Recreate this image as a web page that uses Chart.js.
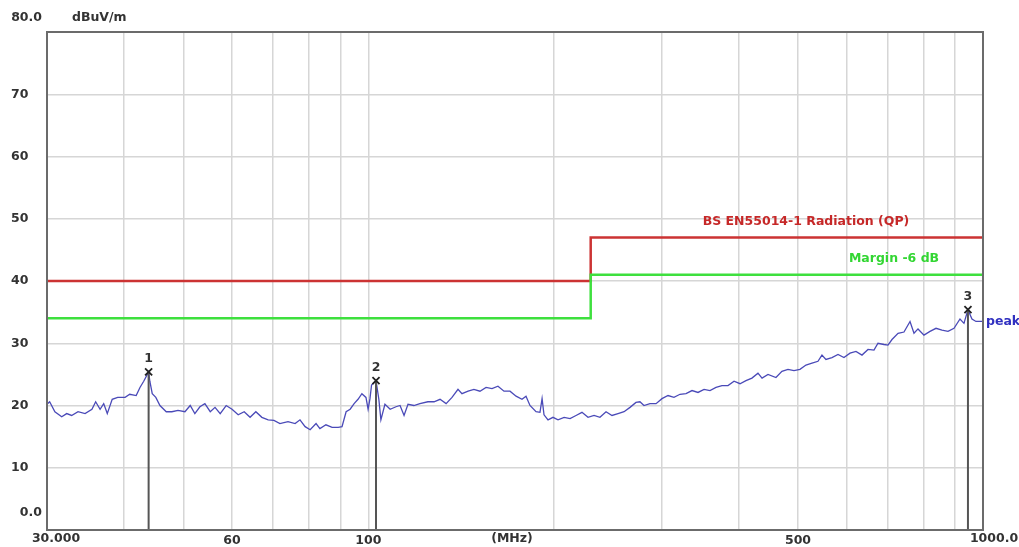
<!DOCTYPE html>
<html>
<head>
<meta charset="utf-8">
<script src="https://cdn.jsdelivr.net/npm/chart.js@4/dist/chart.umd.min.js"></script>
<style>
  html, body { margin: 0; padding: 0; background: #fff; }
  canvas { display: block; }
</style>
</head>
<body>
<canvas id="emi" width="1019" height="547"></canvas>
<script>
// peak trace, MHz / dBuV/m
const freqs = [30.0,30.3,30.9,31.7,32.3,32.9,33.7,34.6,35.5,36.0,
  36.6,37.1,37.6,38.3,39.1,40.2,40.9,41.9,42.5,43.1,
  43.9,44.1,44.5,45.1,45.8,46.9,47.9,49.0,50.3,51.3,
  52.2,53.2,54.2,55.3,56.3,57.4,58.7,60.0,61.4,62.8,
  64.2,65.6,67.1,68.7,70.2,71.8,74.0,76.0,77.4,78.9,
  80.4,82.2,83.4,85.3,87.3,89.3,90.6,92.0,93.4,94.8,
  96.2,97.6,99.1,99.9,100.6,101.2,102.9,104.0,104.8,106.4,
  108.5,110.9,112.6,114.3,116.0,118.6,121.3,125.0,127.9,130.8,
  133.8,136.8,139.9,142.0,145.3,148.5,151.9,155.4,158.9,162.5,
  166.2,170.0,173.9,177.8,180.5,183.2,187.4,190.2,191.7,193.1,
  196.0,199.7,203.5,208.2,212.9,217.7,222.6,227.7,232.9,238.1,
  243.6,249.1,254.8,260.6,266.5,272.5,276.6,280.8,287.2,293.8,
  300.4,307.3,314.2,321.4,328.7,336.2,343.8,351.7,359.6,367.8,
  376.1,384.7,393.5,402.4,411.5,420.8,430.4,437.0,446.9,460.4,
  470.8,481.6,492.6,503.7,515.2,527.0,538.9,547.0,555.2,567.9,
  580.9,594.0,607.6,621.3,635.5,650.0,664.7,674.7,690.1,700.5,
  711.1,727.4,743.8,760.8,772.2,783.9,801.6,819.9,838.6,857.6,
  877.1,897.1,917.4,931.2,945.2,959.5,974.0,1000];
const peak = [20.2,20.6,19.0,18.2,18.7,18.4,19.0,18.7,19.4,20.6,
  19.4,20.3,18.7,21.0,21.3,21.3,21.8,21.6,22.9,23.9,
  25.4,23.9,21.9,21.3,20.0,19.0,19.0,19.2,19.0,20.0,
  18.7,19.8,20.3,19.0,19.7,18.7,20.0,19.4,18.5,19.0,
  18.1,19.0,18.1,17.7,17.6,17.1,17.4,17.1,17.7,16.6,
  16.1,17.1,16.3,16.9,16.5,16.5,16.6,19.0,19.4,20.3,
  21.0,21.9,21.3,19.4,21.1,23.3,24.0,21.0,17.7,20.2,
  19.4,19.8,20.0,18.4,20.2,20.0,20.3,20.6,20.6,21.0,
  20.3,21.3,22.6,21.9,22.3,22.6,22.3,22.9,22.7,23.1,
  22.3,22.3,21.5,21.0,21.5,20.0,19.0,18.9,21.1,18.5,
  17.7,18.1,17.7,18.1,17.9,18.4,18.9,18.1,18.4,18.1,
  19.0,18.4,18.7,19.0,19.7,20.5,20.6,20.0,20.3,20.3,
  21.1,21.6,21.3,21.8,21.9,22.4,22.1,22.6,22.4,22.9,
  23.2,23.2,23.9,23.5,24.0,24.4,25.2,24.4,25.0,24.5,
  25.5,25.8,25.6,25.8,26.5,26.8,27.1,28.1,27.4,27.7,
  28.2,27.7,28.4,28.7,28.1,29.0,28.9,30.0,29.8,29.7,
  30.6,31.6,31.8,33.5,31.6,32.3,31.3,31.9,32.4,32.1,
  31.9,32.4,33.9,33.2,35.4,33.9,33.5,33.5];

// limit + margin lines
const limitFreqs = [30, 230, 230, 1000];
const limitQP = [40, 40, 47, 47];
const marginLine = [34, 34, 41, 41];

// markers 1..3
const markerFreqs = [43.9, 102.9, 945.2];
const markerVals = [25.4, 24.0, 35.4];

const gridFreqs = [30,40,50,60,70,80,90,100,200,300,400,500,600,700,800,900,1000];
const xLabelFreqs = [60, 100, 500];

const FONT = 'bold 12.5px "DejaVu Sans"';
const TXT = '#333';

const pts = (xs, ys) => xs.map((v, i) => ({x: v, y: ys[i]}));

const markerLineSets = markerFreqs.map((f, i) => ({
  data: [{x: f, y: 0}, {x: f, y: markerVals[i]}],
  borderColor: '#555',
  borderWidth: 2,
  pointRadius: 0
}));

const annotate = {
  id: 'annotate',
  afterDatasetsDraw(chart) {
    const {ctx, chartArea: a, scales: {x, y}} = chart;
    ctx.save();
    ctx.strokeStyle = '#6b6b6b';
    ctx.lineWidth = 2;
    ctx.strokeRect(a.left, a.top, a.right - a.left, a.bottom - a.top);

    ctx.font = FONT;
    ctx.textBaseline = 'middle';
    ctx.fillStyle = TXT;
    ctx.textAlign = 'right';
    ctx.fillText('80.0', 42, y.getPixelForValue(80) - 14);
    ctx.fillText('0.0', 42, y.getPixelForValue(0) - 17);
    ctx.textAlign = 'left';
    ctx.fillText('dBuV/m', 72, y.getPixelForValue(80) - 14);

    ctx.textAlign = 'center';
    ctx.fillText('30.000', x.getPixelForValue(30) + 9, 539);
    ctx.fillText('(MHz)', 512, 539);
    ctx.fillText('1000.0', x.getPixelForValue(1000) + 11, 539);

    // marker numbers
    markerFreqs.forEach((f, i) => {
      ctx.fillText(String(i + 1), x.getPixelForValue(f), y.getPixelForValue(markerVals[i]) - 13);
    });

    ctx.fillStyle = '#c62828';
    ctx.fillText('BS EN55014-1 Radiation (QP)', 806, y.getPixelForValue(47) - 16);
    ctx.fillStyle = '#33d633';
    ctx.fillText('Margin -6 dB', 894, y.getPixelForValue(41) - 16);
    ctx.fillStyle = '#3030c0';
    ctx.textAlign = 'left';
    ctx.fillText('peak', 986, y.getPixelForValue(peak[peak.length - 1]));
    ctx.restore();
  }
};

new Chart(document.getElementById('emi'), {
  type: 'line',
  data: {
    datasets: [
      {
        data: pts(markerFreqs, markerVals),
        showLine: false,
        pointStyle: 'crossRot',
        pointRadius: 5,
        borderColor: '#222',
        borderWidth: 1.8
      },
      ...markerLineSets,
      {
        data: pts(freqs, peak),
        borderColor: '#4a4ab8',
        borderWidth: 1.3,
        pointRadius: 0,
        tension: 0
      },
      {
        data: pts(limitFreqs, marginLine),
        borderColor: '#3ee03e',
        borderWidth: 2.5,
        pointRadius: 0
      },
      {
        data: pts(limitFreqs, limitQP),
        borderColor: '#cc3333',
        borderWidth: 2.5,
        pointRadius: 0
      }
    ]
  },
  options: {
    responsive: false,
    animation: false,
    layout: { padding: { left: 11, top: 32, right: 36, bottom: 0 } },
    plugins: { legend: { display: false }, tooltip: { enabled: false } },
    scales: {
      x: {
        type: 'logarithmic',
        min: 30,
        max: 1000,
        afterBuildTicks: (s) => { s.ticks = gridFreqs.map(v => ({value: v})); },
        afterFit: (s) => { s.height = 17; },
        border: { display: false },
        grid: { color: '#d6d6d6', lineWidth: 1.5, drawTicks: false },
        ticks: {
          autoSkip: false,
          maxRotation: 0,
          padding: 3,
          color: TXT,
          font: { family: 'DejaVu Sans', size: 12.5, weight: 'bold' },
          callback: (v) => xLabelFreqs.includes(v) ? String(v) : ''
        }
      },
      y: {
        min: 0,
        max: 80,
        afterFit: (s) => { s.width = 36; },
        border: { display: false },
        grid: { color: '#d6d6d6', lineWidth: 1.5, drawTicks: false },
        ticks: {
          stepSize: 10,
          crossAlign: 'far',
          color: TXT,
          font: { family: 'DejaVu Sans', size: 12.5, weight: 'bold' },
          callback: (v) => (v === 0 || v === 80) ? '' : String(v)
        }
      }
    }
  },
  plugins: [annotate]
});
</script>
</body>
</html>
